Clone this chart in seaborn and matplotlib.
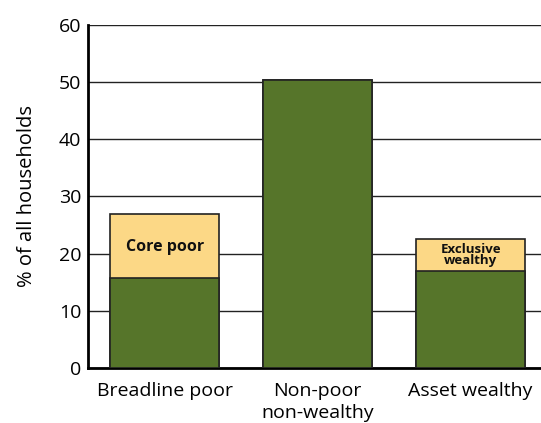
import pandas as pd
import matplotlib.pyplot as plt
import seaborn as sns

# data
categories = ['Breadline poor', 'Non-poor\nnon-wealthy', 'Asset wealthy']
total_share = [27.0, 50.3, 22.6]     # whole bar height (% of households)
base_share = [15.8, 50.3, 17.0]      # green part
sub_labels = ['Core poor', '', 'Exclusive\nwealthy']
label_y = [21.2, None, 19.8]
label_size = [11.5, None, 9.5]

green = '#56752a'
yellow = '#fcd886'

sns.set_style('white')
plt.rcParams['font.family'] = ['Open Sans', 'DejaVu Sans']
plt.rcParams['text.color'] = 'black'
plt.rcParams['xtick.color'] = 'black'
plt.rcParams['ytick.color'] = 'black'
plt.rcParams['axes.labelcolor'] = 'black'

df = pd.DataFrame({'cat': categories, 'total': total_share, 'base': base_share})

fig = plt.figure(figsize=(5.41, 4.23), dpi=100)
ax = fig.add_axes([0.163, 0.13, 0.837, 0.811])

sns.barplot(data=df, x='cat', y='total', color=yellow, width=0.71,
            edgecolor='#222222', linewidth=1.2, saturation=1, ax=ax, zorder=3)
sns.barplot(data=df, x='cat', y='base', color=green, width=0.71,
            edgecolor='#222222', linewidth=1.2, saturation=1, ax=ax, zorder=4)

for i, txt in enumerate(sub_labels):
    if txt:
        ax.text(i, label_y[i], txt, ha='center', va='center', fontsize=label_size[i],
                fontweight='bold', color='#111111', linespacing=0.85, zorder=5)

ax.set_ylim(0, 60)
ax.set_xlim(-0.5, 2.46)
ax.set_yticks(range(0, 61, 10))
ax.yaxis.grid(True, color='#222222', linewidth=1.0)
ax.set_axisbelow(True)

# little ticks between the categories
ax.set_xticks([0.5, 1.5], minor=True)
ax.tick_params(axis='x', which='minor', direction='in', length=6, width=1.5, color='black')
ax.tick_params(axis='x', which='major', length=0, pad=10, labelsize=14)
ax.tick_params(axis='y', length=0, pad=5, labelsize=14)
for lbl in ax.get_xticklabels():
    lbl.set_linespacing(1.3)

for s in ['top', 'right']:
    ax.spines[s].set_visible(False)
ax.spines['left'].set_linewidth(2)
ax.spines['bottom'].set_linewidth(2)
ax.spines['left'].set_color('black')
ax.spines['bottom'].set_color('black')

ax.set_xlabel('')
ax.set_ylabel('% of all households', fontsize=14.5, labelpad=16)

fig.savefig('out.png', dpi=100)
